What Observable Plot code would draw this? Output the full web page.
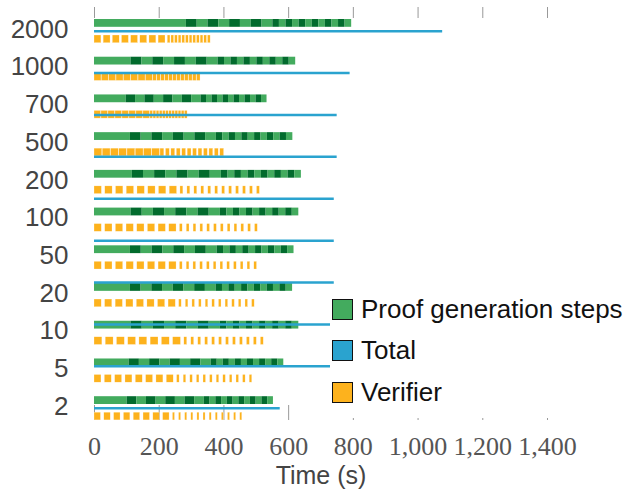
<!DOCTYPE html>
<html>
<head>
<meta charset="utf-8">
<script src="https://cdn.jsdelivr.net/npm/d3@7"></script>
<script src="https://cdn.jsdelivr.net/npm/@observablehq/plot@0.6"></script>
<style>
html, body { margin: 0; padding: 0; background: #fff; }
#wrap { position: relative; width: 626px; height: 491px; overflow: hidden; }
#wrap svg { position: absolute; left: 0; top: 0; }
.legend { position: absolute; left: 330px; top: 290px; width: 296px; height: 128px; background: #fff; }
.item { position: absolute; left: 2px; height: 26px; display: flex; align-items: center;
  font-family: "Liberation Sans", Arial, sans-serif; font-size: 26px; color: #111; white-space: nowrap; }
.sw { width: 19px; height: 19px; border: 1px solid #111; margin-right: 8px; box-sizing: content-box; }
</style>
</head>
<body>
<div id="wrap"></div>
<script>
// ---- data (top to bottom) ----
const categories = ["2000","1000","700","500","200","100","50","20","10","5","2"];

// Proof generation: initial segment, then 8 wide steps, then 12 narrow steps (seconds)
const proofSetup      = [284, 113, 98, 111, 117, 113, 111, 111, 113, 107, 101];
const proofWideStep   = [33.4, 33.6, 28.9, 33.2, 34.4, 34.5, 33.5, 33.1, 34.5, 31.7, 29.8];
const proofNarrowStep = [20.3, 20.0, 17.0, 19.7, 20.6, 20.2, 19.8, 19.7, 20.2, 18.7, 17.8];

// Verifier: 8 wide steps then 12 narrow steps; each step = work + idle (seconds)
const verifierWideStep   = [28.3, 22.7, 21.6, 25.5, 33.2, 33.0, 33.0, 32.7, 34.7, 31.9, 30.3];
const verifierWideIdle   = [7.0, 1.2, 1.2, 1.5, 10.4, 10.4, 10.4, 10.4, 10.4, 10.4, 10.4];
const verifierNarrowStep = [11.3, 12.3, 9.7, 16.8, 21.5, 21.1, 20.9, 20.5, 21.5, 20.4, 18.9];
const verifierNarrowIdle = [3.0, 1.5, 1.5, 5.0, 12.5, 12.5, 12.5, 12.5, 12.5, 12.5, 12.5];

const wideCount = 8;
const narrowCount = 12;

// Total (drawn on its own 10-row band)
const totalCats   = ["2000","1000","700","500","200","100","50","20","10","5"];
const totalValues = [1076, 790, 750, 750, 741, 741, 741, 734, 734, 574];

const xTicks = [0, 200, 400, 600, 800, 1000, 1200, 1400];

const colors = { light: "#43ab5e", dark: "#026b2d", total: "#2aa3cf", verifier: "#fdb21d" };

// ---- build segment tables ----
const proofSegments = [];
const verifierSegments = [];
categories.forEach((c, i) => {
  let t = 0;
  proofSegments.push({cat: c, x1: 0, x2: proofSetup[i], shade: "light"});
  t = proofSetup[i];
  let k = 0;
  for (let j = 0; j < wideCount; j++, k++) {
    proofSegments.push({cat: c, x1: t, x2: t + proofWideStep[i], shade: k % 2 === 0 ? "dark" : "light"});
    t += proofWideStep[i];
  }
  for (let j = 0; j < narrowCount; j++, k++) {
    proofSegments.push({cat: c, x1: t, x2: t + proofNarrowStep[i], shade: k % 2 === 0 ? "dark" : "light"});
    t += proofNarrowStep[i];
  }
  let v = 0;
  for (let j = 0; j < wideCount; j++) {
    verifierSegments.push({cat: c, x1: v, x2: v + verifierWideStep[i] - verifierWideIdle[i]});
    v += verifierWideStep[i];
  }
  for (let j = 0; j < narrowCount; j++) {
    verifierSegments.push({cat: c, x1: v, x2: v + verifierNarrowStep[i] - verifierNarrowIdle[i]});
    v += verifierNarrowStep[i];
  }
});
const totalRows = totalCats.map((c, i) => ({cat: c, value: totalValues[i]}));

const W = 626, H = 491;
const common = { width: W, height: H, marginLeft: 94, marginRight: 79, marginTop: 7, marginBottom: 71 };

const main = Plot.plot({
  ...common,
  style: { background: "white", overflow: "visible" },
  x: { domain: [0, 1400] },
  y: { type: "band", domain: categories, range: [11.94, 426.86], padding: 0, round: false },
  marks: [
    Plot.ruleX(xTicks, { x: d => d, stroke: "#999", strokeWidth: 1, insetBottom: 402 }),
    Plot.ruleX(xTicks, { x: d => d, stroke: "#999", strokeWidth: 1, insetTop: 398 }),
    Plot.barX(proofSegments, { x1: "x1", x2: "x2", y: "cat",
      fill: d => d.shade === "dark" ? colors.dark : colors.light,
      insetTop: 7.06, insetBottom: 22.86 }),
    Plot.barX(verifierSegments, { x1: "x1", x2: "x2", y: "cat",
      fill: colors.verifier, stroke: "white", strokeWidth: 0.4, strokeOpacity: 0.6,
      insetTop: 23.06, insetBottom: 6.96 }),
    Plot.axisX({ ticks: xTicks, anchor: "bottom", tickSize: 0, tickPadding: 16,
      tickFormat: d3.format(","), fontSize: 26, fontFamily: "Liberation Serif, serif",
      fill: "#555", label: null }),
    Plot.axisY({ anchor: "left", tickSize: 0, tickPadding: 26, fontSize: 26, dy: -2,
      fontFamily: "Liberation Sans, Arial, sans-serif", fill: "#444", label: null }),
    Plot.text(["Time (s)"], { text: d => d, frameAnchor: "bottom", lineAnchor: "middle", dy: 55, fontSize: 25,
      fontFamily: "Liberation Sans, Arial, sans-serif", fill: "#444" })
  ]
});

const overlay = Plot.plot({
  ...common,
  style: { background: "transparent", overflow: "visible" },
  x: { domain: [0, 1400], axis: null },
  y: { type: "point", domain: totalCats, range: [30.7, 407.7], padding: 0, round: false, axis: null },
  marks: [
    Plot.ruleY(totalRows, { y: "cat", x1: 0, x2: "value", stroke: colors.total, strokeWidth: 2.5 })
  ]
});

const wrap = document.getElementById("wrap");
wrap.appendChild(main);
wrap.appendChild(overlay);

// legend
const legendItems = [
  { label: "Proof generation steps", color: colors.light, cy: 309 },
  { label: "Total", color: colors.total, cy: 350.5 },
  { label: "Verifier", color: colors.verifier, cy: 392 }
];
const leg = document.createElement("div");
leg.className = "legend";
legendItems.forEach(it => {
  const row = document.createElement("div");
  row.className = "item";
  row.style.top = (it.cy - 290 - 13) + "px";
  const sw = document.createElement("span");
  sw.className = "sw";
  sw.style.background = it.color;
  const tx = document.createElement("span");
  tx.textContent = it.label;
  row.appendChild(sw);
  row.appendChild(tx);
  leg.appendChild(row);
});
wrap.appendChild(leg);
</script>
</body>
</html>
